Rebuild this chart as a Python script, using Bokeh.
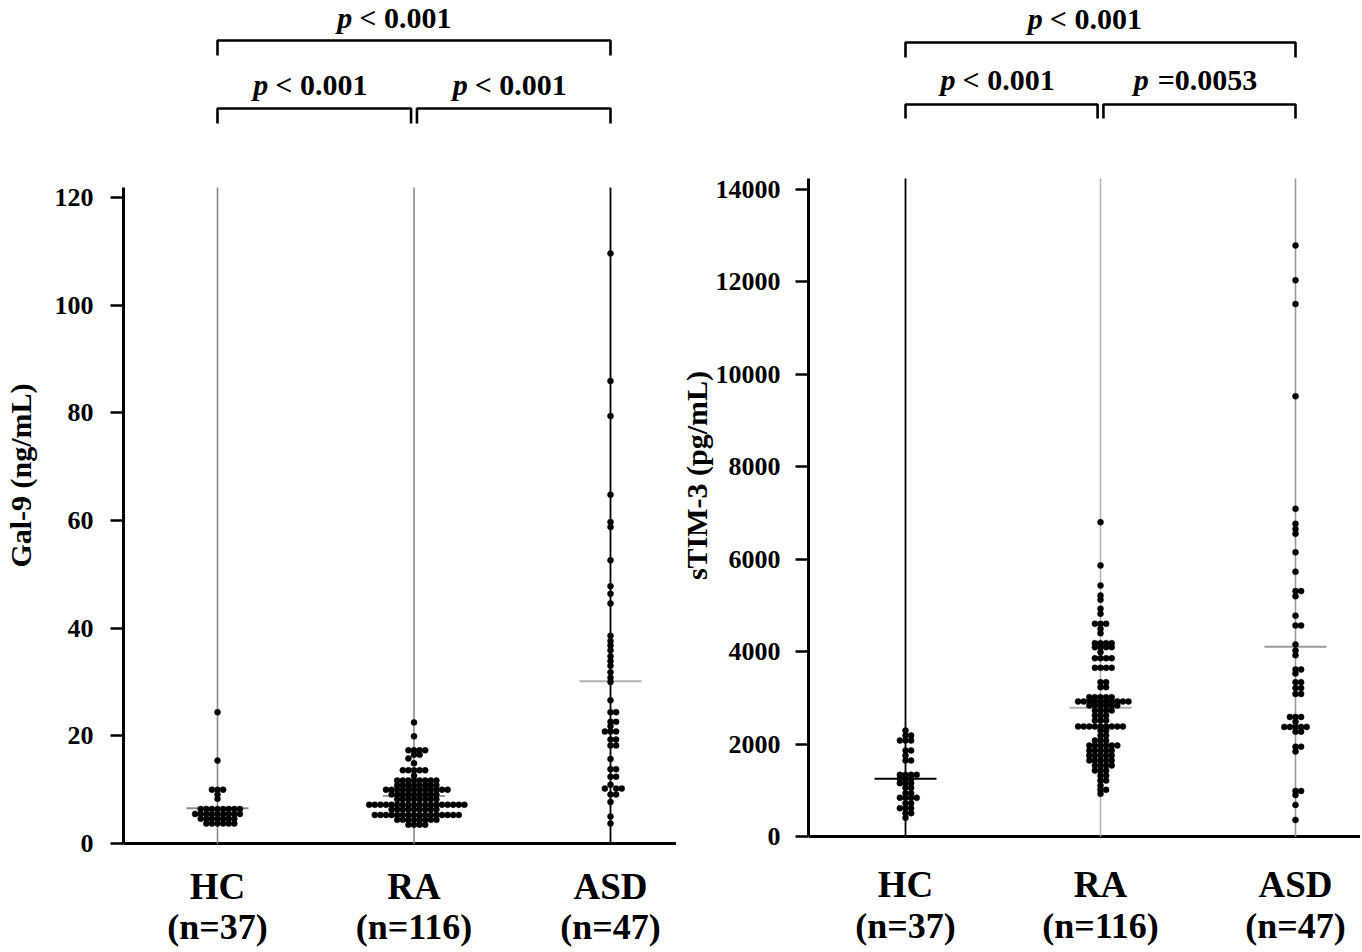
import numpy as np
from bokeh.plotting import figure
from bokeh.layouts import row
from bokeh.models import FixedTicker
from bokeh.core.properties import value
from bokeh.embed import file_html
from bokeh.resources import INLINE

# ---------------- data ----------------
groups = ["HC", "RA", "ASD"]
group_n = [37, 116, 47]

gal9_hc = [24.4, 15.4, 10.0, 10.0, 10.0, 9.1, 8.3,
           6.4, 6.4, 6.4, 6.4, 6.4, 6.4, 6.4, 6.4,
           5.5, 5.5, 5.5, 5.5, 5.5, 5.5, 5.5, 5.5, 5.5,
           4.6, 4.6, 4.6, 4.6, 4.6, 4.6, 4.6,
           3.7, 3.7, 3.7, 3.7, 3.7, 3.7]

gal9_ra = [22.5, 19.9, 17.3, 17.3, 17.3, 17.3, 16.5, 16.5, 15.8, 14.9,
           13.6, 13.6, 13.6, 13.6, 13.6, 12.6,
           11.7, 11.7, 11.7, 11.7, 11.7, 11.7, 11.7, 11.7,
           10.8, 10.8, 10.8, 10.8, 10.8, 10.8, 10.8, 10.8,
           10.0, 10.0, 10.0, 10.0, 10.0, 10.0, 10.0, 10.0, 10.0, 10.0, 10.0, 10.0,
           9.1, 9.1, 9.1, 9.1, 9.1, 9.1, 9.1, 9.1, 9.1,
           8.2, 8.2, 8.2, 8.2, 8.2, 8.2, 8.2, 8.2,
           7.2, 7.2, 7.2, 7.2, 7.2, 7.2, 7.2, 7.2, 7.2, 7.2, 7.2, 7.2, 7.2, 7.2, 7.2, 7.2, 7.2, 7.2,
           6.3, 6.3, 6.3, 6.3, 6.3, 6.3, 6.3, 6.3, 6.3,
           5.3, 5.3, 5.3, 5.3, 5.3, 5.3, 5.3, 5.3, 5.3, 5.3, 5.3, 5.3, 5.3, 5.3, 5.3, 5.3,
           4.4, 4.4, 4.4, 4.4, 4.4, 4.4, 4.4, 4.4,
           3.5, 3.5, 3.5, 3.5]

gal9_asd = [109.6, 85.9, 79.4, 64.8, 59.7, 58.8, 52.6, 47.8, 46.4, 44.6,
            38.6, 37.6, 36.8, 35.9, 34.8, 33.9, 33.0, 31.8, 30.8, 30.0,
            26.6, 24.4, 24.4, 22.6, 22.6, 21.8, 20.8, 20.8, 20.8, 19.3, 19.3,
            18.2, 18.2, 15.7, 13.8, 13.8, 12.4, 12.4, 10.9, 10.2, 10.2, 10.2,
            9.1, 9.1, 7.7, 5.0, 3.7]

stim3_hc = [2294, 2186, 2186, 2077, 2077, 2077, 1861, 1861, 1753, 1645, 1645,
            1335, 1335, 1335, 1335, 1248, 1248, 1248, 1154, 1154, 1154,
            1053, 1053, 938, 938, 837, 837, 837, 837, 721, 721,
            613, 613, 613, 505, 505, 404]

stim3_ra = [6802, 5865, 5432, 5215, 5122, 4927, 4819, 4603, 4603, 4603, 4495, 4400,
            4184, 4184, 4184, 4184, 4097, 4097, 4097, 4097, 3988,
            3858, 3858, 3858, 3858, 3650, 3650, 3650, 3650, 3339, 3339, 3231, 3231,
            3015, 3015, 3015, 3015, 3015,
            2921, 2921, 2921, 2921, 2921, 2921, 2921, 2921, 2921, 2921,
            2835, 2835, 2835, 2835, 2835, 2835, 2727, 2727, 2727, 2727,
            2618, 2618, 2618, 2510, 2510, 2510,
            2380, 2380, 2380, 2380, 2380, 2380, 2380, 2380, 2380,
            2294, 2294, 2186, 2186, 2077, 2077, 2077,
            1969, 1969, 1969, 1969, 1969, 1969, 1861, 1861, 1861, 1861, 1861,
            1753, 1753, 1753, 1753, 1753, 1645, 1645, 1645, 1645, 1645,
            1536, 1536, 1536, 1536, 1428, 1428, 1428, 1320, 1320, 1212, 1212,
            1104, 1010, 1010, 924]

stim3_asd = [12790, 12036, 11521, 9526, 7091, 6767, 6656, 6553, 6150, 5730,
             5310, 5310, 5198, 4778, 4566, 4566, 4155, 4027, 3923, 3614, 3614, 3528,
             3339, 3339, 3211, 3211, 3084, 3084, 2586, 2586, 2586, 2482,
             2372, 2372, 2372, 2372, 2372, 2268, 2268, 1943, 1943, 1839,
             985, 985, 898, 684, 359]

gal9_ticks = [0, 20, 40, 60, 80, 100, 120]
stim3_ticks = [0, 2000, 4000, 6000, 8000, 10000, 12000, 14000]
gal9_pvals = ["< 0.001", "< 0.001", "< 0.001"]      # HC-ASD, HC-RA, RA-ASD
stim3_pvals = ["< 0.001", "< 0.001", "=0.0053"]

FONT = "Liberation Serif"
FIG_H = 950
TXT_FIX = 11   # text glyphs render slightly lower than their nominal baseline


def beeswarm(vals, xc, px_x, px_y, d=5.6):
    placed = []
    res = [0.0] * len(vals)
    offs = [0.0]
    for j in range(1, 80):
        offs += [j * d, -j * d]
    order = sorted(range(len(vals)), key=lambda i: -vals[i])
    for i in order:
        ypx = vals[i] * px_y
        chosen = 0.0
        for o in offs:
            if all(not (abs(oy - ypx) < 0.7 * d and abs(ox - o) < 0.9 * d) for ox, oy in placed):
                chosen = o
                break
        placed.append((chosen, ypx))
        res[i] = xc + chosen / px_x
    return res


def est_width(s, size):
    w = {"p": 0.5, "<": 0.57, "=": 0.57, " ": 0.25, ".": 0.25}
    return sum(w.get(c, 0.5) for c in s) * size


def make_panel(series, ylabel, ticks, pvals, geom, vcolors, mcolors):
    W, H = geom["W"], FIG_H
    fl = geom["fl"]
    frame_w = W - fl
    x_step = geom["x_step"]
    x0 = 1 - geom["x_first"] / x_step
    x1 = x0 + frame_w / x_step
    px_y = geom["tick_px"] / ticks[-1]
    axis0 = geom["axis0"]

    def yv(img_y):
        return (axis0 - img_y) / px_y

    def yt(img_y):
        return yv(img_y - TXT_FIX)

    axis_top = yv(geom["axis_top_img"])

    p = figure(width=W, height=H, x_range=(x0, x1), y_range=(yv(H), yv(0)),
               output_backend="svg", toolbar_location=None,
               min_border_left=fl, min_border_right=0, min_border_top=0,
               min_border_bottom=0)
    p.background_fill_color = "white"
    p.border_fill_color = "white"
    p.outline_line_color = None
    p.xgrid.visible = False
    p.ygrid.visible = False
    p.xaxis.visible = False

    xs = [1, 2, 3]
    # x axis base line at zero
    p.segment(x0=[x0], y0=[0], x1=[x1], y1=[0], line_color="black", line_width=3)
    # vertical group lines
    for x, c in zip(xs, vcolors):
        p.segment(x0=[x], y0=[0], x1=[x], y1=[axis_top], line_color=c,
                  line_width=1.6 if c != "black" else 1.8)
    # mean lines
    half = 31 / x_step
    for x, vals, c in zip(xs, series, mcolors):
        m = float(np.mean(vals))
        p.segment(x0=[x - half], y0=[m], x1=[x + half], y1=[m], line_color=c, line_width=2)
    # dots
    for x, vals in zip(xs, series):
        bx = beeswarm(vals, x, x_step, px_y)
        p.scatter(x=bx, y=vals, size=6, fill_color="black", line_color="black", line_width=0.5)

    # category labels (x tick labels)
    p.text(x=xs, y=[yt(geom["lab1_base"])] * 3, text=groups,
           text_font=value(FONT), text_font_style="bold", text_font_size="37px",
           text_align="center", text_baseline="alphabetic", text_color="black")
    p.text(x=xs, y=[yt(geom["lab2_base"])] * 3, text=[f"(n={n})" for n in group_n],
           text_font=value(FONT), text_font_style="bold", text_font_size="36px",
           text_align="center", text_baseline="alphabetic", text_color="black")

    # brackets
    br = geom["brackets"]
    spans = [(1, 3), (1, 1.985), (2.015, 3)]
    levels = [br["top"], br["low"], br["low"]]
    for (a, b), lv, pv, k in zip(spans, levels, pvals, range(3)):
        bar, leg, base = lv
        p.multi_line(xs=[[a, a, b, b]], ys=[[yv(leg), yv(bar), yv(bar), yv(leg)]],
                     line_color="black", line_width=2.6)
        cx = (a + b) / 2 - (geom["top_shift"] if k == 0 else 0.02)
        fs = 30
        wp = 15
        gap = 7 if pv.startswith("<") else 9
        total = wp + gap + est_width(pv, fs)
        p.text(x=[cx], y=[yt(base)], text=["p"], x_offset=-total / 2 + wp,
               text_font=value(FONT), text_font_style="bold italic",
               text_font_size=f"{fs}px", text_align="right", text_baseline="alphabetic",
               text_color="black")
        p.text(x=[cx], y=[yt(base)], text=[pv], x_offset=-total / 2 + wp + gap,
               text_font=value(FONT), text_font_style="bold",
               text_font_size=f"{fs}px", text_align="left", text_baseline="alphabetic",
               text_color="black")

    # y axis
    ya = p.yaxis[0]
    ya.ticker = FixedTicker(ticks=ticks)
    ya.bounds = (0, axis_top)
    ya.axis_line_width = 3
    ya.axis_line_color = "black"
    ya.major_tick_out = 13
    ya.major_tick_in = 0
    ya.major_tick_line_width = 2.5
    ya.minor_tick_line_color = None
    ya.major_label_text_font = FONT
    ya.major_label_text_font_style = "bold"
    ya.major_label_text_font_size = "26px"
    ya.major_label_text_color = "black"
    ya.major_label_standoff = geom["lab_standoff"]
    ya.axis_label = ylabel
    ya.axis_label_text_font = FONT
    ya.axis_label_text_font_style = "bold"
    ya.axis_label_text_font_size = "30px"
    ya.axis_label_text_color = "black"
    ya.axis_label_standoff = geom["axlab_standoff"]
    return p


geom_left = dict(W=676, fl=123, x_first=94, x_step=196.5, tick_px=646,
                 axis0=843, axis_top_img=187, lab_standoff=17, axlab_standoff=15,
                 lab1_base=897, lab2_base=937, top_shift=0.1,
                 brackets=dict(top=(40, 55, 28), low=(108, 123, 95)))
geom_right = dict(W=684, fl=132, x_first=97, x_step=195, tick_px=647,
                  axis0=836, axis_top_img=178, lab_standoff=15, axlab_standoff=0,
                  lab1_base=895, lab2_base=936, top_shift=0.08,
                  brackets=dict(top=(42, 57, 29), low=(104, 118, 90)))

p1 = make_panel([gal9_hc, gal9_ra, gal9_asd], "Gal-9 (ng/mL)", gal9_ticks, gal9_pvals,
                geom_left, ["#8a8a8a", "#8a8a8a", "black"], ["#8a8a8a", "#9a9a9a", "#b0b0b0"])
p2 = make_panel([stim3_hc, stim3_ra, stim3_asd], "sTIM-3 (pg/mL)", stim3_ticks, stim3_pvals,
                geom_right, ["black", "#b5b5b5", "#9a9a9a"], ["black", "#b0b0b0", "#9a9a9a"])

layout = row(p1, p2)
open("out.html", "w").write(file_html(layout, INLINE))
